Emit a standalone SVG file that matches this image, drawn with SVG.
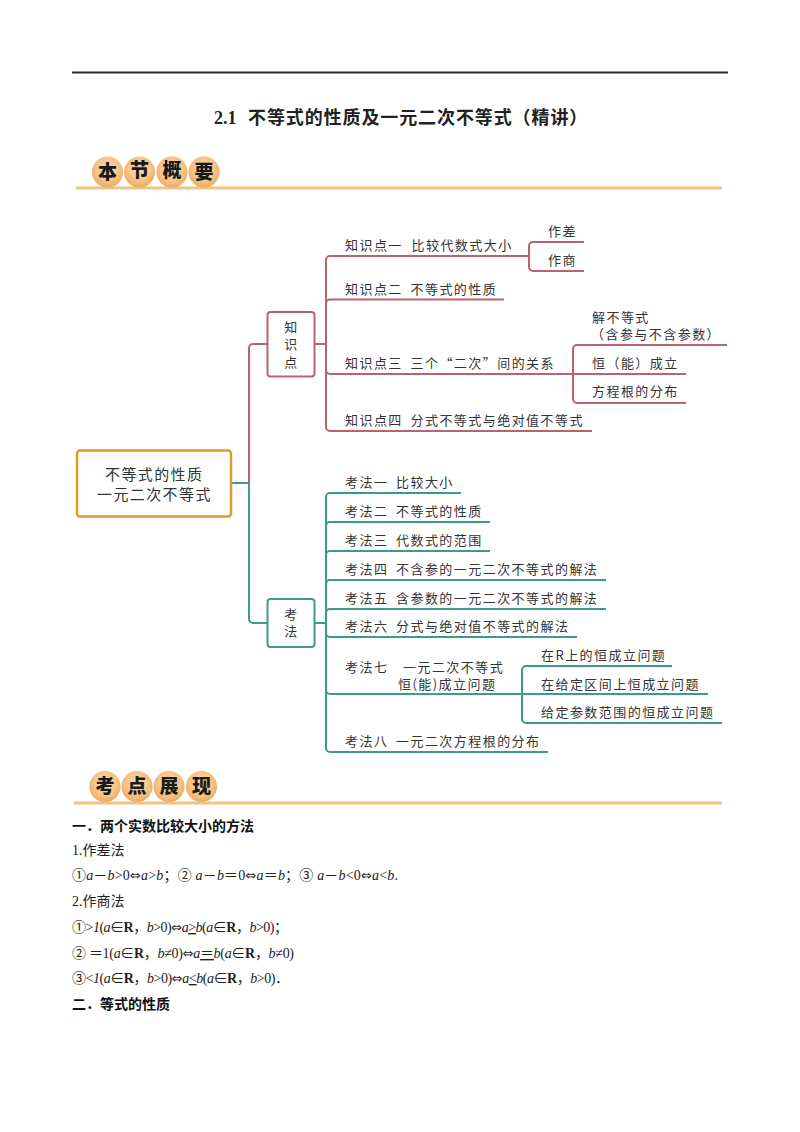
<svg xmlns="http://www.w3.org/2000/svg" width="800" height="1132" viewBox="0 0 800 1132">
<style>
text{font-family:"Liberation Serif","Noto Sans CJK SC",serif;fill:#222}
.m text,text.m{font-family:"Noto Sans CJK SC","Liberation Sans",sans-serif;font-size:13px;letter-spacing:1.45px;fill:#333}
.r{font-family:"Noto Sans CJK SC",sans-serif;font-size:15px;letter-spacing:1.4px;fill:#333}
.c{text-anchor:middle}
.h{font-family:"Noto Sans CJK SC",sans-serif;font-size:19px;font-weight:900;fill:#1a1a1a;text-anchor:middle}
.b{font-size:14px}
.bb{font-size:14px;font-weight:700;fill:#111}
.red{fill:none;stroke:#b9636d;stroke-width:2}
.grn{fill:none;stroke:#3f9a8e;stroke-width:2}
.bar{fill:#efc285}
.i{font-style:italic}
.B{font-weight:700}
.a{font-family:"DejaVu Sans",sans-serif;font-size:13px}
.u{text-decoration:underline}
</style>
<defs><radialGradient id="g" cx="50%" cy="42%" r="58%"><stop offset="0" stop-color="#fbdcae"/><stop offset="0.6" stop-color="#f7c68a"/><stop offset="1" stop-color="#efa95f"/></radialGradient></defs>
<rect width="800" height="1132" fill="#fff"/>
<rect x="72" y="71.5" width="656" height="2" fill="#2a2a2a"/>
<text y="124" font-size="18" font-weight="700" fill="#111"><tspan x="214">2.1</tspan><tspan x="248" letter-spacing="0.9">不等式的性质及一元二次不等式（精讲）</tspan></text>

<g id="header1">
<rect class="bar" x="76" y="186.5" width="646" height="3"/>
<circle cx="107.5" cy="172" r="15.5" fill="url(#g)"/><circle cx="139.5" cy="172" r="15.5" fill="url(#g)"/><circle cx="172" cy="172" r="15.5" fill="url(#g)"/><circle cx="204" cy="172" r="15.5" fill="url(#g)"/>
<text class="h" x="107.500" y="178.500">本</text><text class="h" x="139.500" y="176.500">节</text><text class="h" x="172" y="176.500">概</text><text class="h" x="204" y="178.500">要</text>
</g>

<g id="connectors">
<path class="grn" d="M231 483H249V619a4 4 0 0 0 4 4H267"/>
<path class="red" d="M249 483V348a4 4 0 0 1 4-4H267"/>
<path class="red" d="M315 344H326"/>
<path class="red" d="M584 242H533a4 4 0 0 0-4 4V267a4 4 0 0 0 4 4H584"/>
<path class="red" d="M529 256H330a4 4 0 0 0-4 4V427a4 4 0 0 0 4 4H592"/>
<path class="red" d="M326 303.500a4 4 0 0 1 4-4H504"/>
<path class="red" d="M326 370a4 4 0 0 0 4 4H686"/>
<path class="red" d="M727 345H577a4 4 0 0 0-4 4V399a4 4 0 0 0 4 4H686"/>
<path class="grn" d="M315 623H326"/>
<path class="grn" d="M461 493H330a4 4 0 0 0-4 4V748a4 4 0 0 0 4 4H548"/>
<path class="grn" d="M326 526a4 4 0 0 1 4-4H490"/>
<path class="grn" d="M326 555a4 4 0 0 1 4-4H490"/>
<path class="grn" d="M326 584a4 4 0 0 1 4-4H606"/>
<path class="grn" d="M326 613a4 4 0 0 1 4-4H606"/>
<path class="grn" d="M326 633a4 4 0 0 0 4 4H577"/>
<path class="grn" d="M326 690a4 4 0 0 0 4 4H708"/>
<path class="grn" d="M672 666H526a4 4 0 0 0-4 4V719a4 4 0 0 0 4 4H722"/>
</g>

<g id="root"><rect x="77" y="450.500" width="154" height="66" rx="3" fill="#fff" stroke="#d99f2b" stroke-width="2.500"/>
<text class="r" x="105" y="480">不等式的性质</text><text class="r" x="97" y="499.500">一元二次不等式</text></g>

<g id="n-zsd" class="m"><rect x="267.500" y="312" width="47" height="64.500" rx="3" fill="#fff" stroke="#b9636d" stroke-width="2"/>
<text class="c"><tspan x="291.500" y="331.500">知</tspan><tspan x="291.500" y="349">识</tspan><tspan x="291.500" y="366.500">点</tspan></text></g>
<g id="n-kf" class="m"><rect x="267.500" y="599" width="47" height="48" rx="3" fill="#fff" stroke="#3f9a8e" stroke-width="2"/>
<text class="c"><tspan x="291.500" y="619">考</tspan><tspan x="291.500" y="636">法</tspan></text></g>

<g id="k1" class="m"><text y="250"><tspan x="345">知识点一</tspan><tspan x="411.500">比较代数式大小</tspan></text></g>
<g id="k1a" class="m"><text x="548" y="235.500">作差</text></g>
<g id="k1b" class="m"><text x="548" y="265">作商</text></g>
<g id="k2" class="m"><text y="294"><tspan x="345">知识点二</tspan><tspan x="410.500">不等式的性质</tspan></text></g>
<g id="k3" class="m"><text y="367.500"><tspan x="345">知识点三</tspan><tspan x="410.500">三个“二次”间的关系</tspan></text></g>
<g id="k3a" class="m"><text x="592" y="322">解不等式</text><text x="591" y="339">（含参与不含参数）</text></g>
<g id="k3b" class="m"><text x="592" y="368">恒（能）成立</text></g>
<g id="k3c" class="m"><text x="592" y="396">方程根的分布</text></g>
<g id="k4" class="m"><text y="425"><tspan x="345">知识点四</tspan><tspan x="410.500">分式不等式与绝对值不等式</tspan></text></g>

<g id="f1" class="m"><text y="486.500"><tspan x="345">考法一</tspan><tspan x="396">比较大小</tspan></text></g>
<g id="f2" class="m"><text y="515.500"><tspan x="345">考法二</tspan><tspan x="396">不等式的性质</tspan></text></g>
<g id="f3" class="m"><text y="544.500"><tspan x="345">考法三</tspan><tspan x="396">代数式的范围</tspan></text></g>
<g id="f4" class="m"><text y="573.500"><tspan x="345">考法四</tspan><tspan x="396">不含参的一元二次不等式的解法</tspan></text></g>
<g id="f5" class="m"><text y="602.500"><tspan x="345">考法五</tspan><tspan x="396">含参数的一元二次不等式的解法</tspan></text></g>
<g id="f6" class="m"><text y="631"><tspan x="345">考法六</tspan><tspan x="396">分式与绝对值不等式的解法</tspan></text></g>
<g id="f7" class="m"><text y="671.500"><tspan x="345">考法七</tspan><tspan x="403">一元二次不等式</tspan></text><text x="398" y="689">恒(能)成立问题</text></g>
<g id="f7a" class="m"><text x="541" y="660">在R上的恒成立问题</text></g>
<g id="f7b" class="m"><text x="541" y="689">在给定区间上恒成立问题</text></g>
<g id="f7c" class="m"><text x="541" y="717">给定参数范围的恒成立问题</text></g>
<g id="f8" class="m"><text y="746"><tspan x="345">考法八</tspan><tspan x="396">一元二次方程根的分布</tspan></text></g>

<g id="header2">
<rect class="bar" x="74" y="801.500" width="648" height="3"/>
<circle cx="105" cy="786.500" r="15.500" fill="url(#g)"/><circle cx="137" cy="786.500" r="15.500" fill="url(#g)"/><circle cx="169" cy="786.500" r="15.500" fill="url(#g)"/><circle cx="201.500" cy="786.500" r="15.500" fill="url(#g)"/>
<text class="h" x="105" y="793">考</text><text class="h" x="137" y="793">点</text><text class="h" x="169" y="793">展</text><text class="h" x="201.500" y="793">现</text>
</g>

<text class="bb" x="72" y="831">一．两个实数比较大小的方法</text>
<text class="b" x="72" y="855">1.作差法</text>
<text class="b" x="72" y="880" textLength="326">①<tspan class="i">a</tspan>－<tspan class="i">b</tspan>&gt;0<tspan class="a">⇔</tspan><tspan class="i">a</tspan>&gt;<tspan class="i">b</tspan>；② <tspan class="i">a</tspan>－<tspan class="i">b</tspan>＝0<tspan class="a">⇔</tspan><tspan class="i">a</tspan>＝<tspan class="i">b</tspan>；③ <tspan class="i">a</tspan>－<tspan class="i">b</tspan>&lt;0<tspan class="a">⇔</tspan><tspan class="i">a</tspan>&lt;<tspan class="i">b</tspan>.</text>
<text class="b" x="72" y="906">2.作商法</text>
<text class="b" x="72" y="932" textLength="216">①&gt;<tspan class="i">1</tspan>(<tspan class="i">a</tspan>∈<tspan class="B">R</tspan>，<tspan class="i">b</tspan>&gt;0)<tspan class="a">⇔</tspan><tspan class="i">a</tspan><tspan class="u">&gt;</tspan><tspan class="i">b</tspan>(<tspan class="i">a</tspan>∈<tspan class="B">R</tspan>，<tspan class="i">b</tspan>&gt;0)；</text>
<text class="b" x="72" y="958" textLength="222">② ＝1(<tspan class="i">a</tspan>∈<tspan class="B">R</tspan>，<tspan class="i">b</tspan>≠0)<tspan class="a">⇔</tspan><tspan class="i">a</tspan><tspan class="u">＝</tspan><tspan class="i">b</tspan>(<tspan class="i">a</tspan>∈<tspan class="B">R</tspan>，<tspan class="i">b</tspan>≠0)</text>
<text class="b" x="72" y="983" textLength="217">③&lt;<tspan class="i">1</tspan>(<tspan class="i">a</tspan>∈<tspan class="B">R</tspan>，<tspan class="i">b</tspan>&gt;0)<tspan class="a">⇔</tspan><tspan class="i">a</tspan><tspan class="u">&lt;</tspan><tspan class="i">b</tspan>(<tspan class="i">a</tspan>∈<tspan class="B">R</tspan>，<tspan class="i">b</tspan>&gt;0)．</text>
<text class="bb" x="72" y="1009">二．等式的性质</text>
</svg>
